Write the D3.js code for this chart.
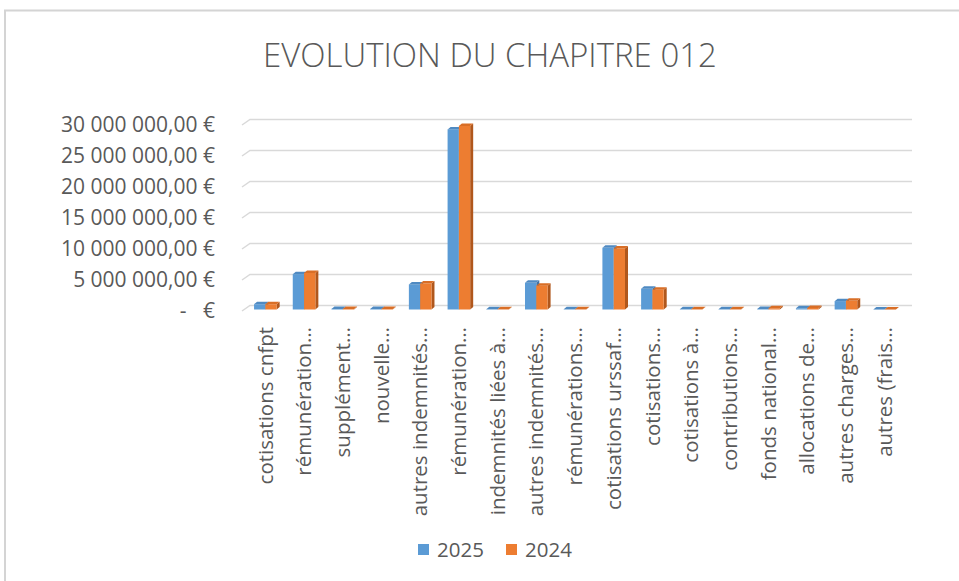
<!DOCTYPE html>
<html lang="fr">
<head>
    <meta charset="UTF-8">
    <title>Evolution du chapitre 012</title>
    <script src="https://d3js.org/d3.v7.min.js"></script>
    <style>
        body {
            margin: 0;
            background: #fff;
        }
        text {
            font-family: "Open Sans", "Noto Sans", sans-serif;
            fill: #595959;
            white-space: pre;
        }
    </style>
</head>
<body>
    <script>
        var width = 959;
        var height = 581;

        var categories = [
            "cotisations cnfpt", "rémunération…", "supplément…", "nouvelle…",
            "autres indemnités…", "rémunération…", "indemnités liées à…",
            "autres indemnités…", "rémunérations…", "cotisations urssaf…",
            "cotisations…", "cotisations à…", "contributions…", "fonds national…",
            "allocations de…", "autres charges…", "autres (frais…"
        ];
        var series = ["2025", "2024"];
        var values2025 = [850000, 5700000, 100000, 100000, 4050000, 29050000, 50000,
            4300000, 50000, 9950000, 3350000, 50000, 50000, 100000, 200000, 1350000, 20000];
        var values2024 = [850000, 5900000, 100000, 100000, 4200000, 29600000, 50000,
            3850000, 50000, 9850000, 3200000, 50000, 50000, 200000, 250000, 1400000, 20000];
        var yTicks = [0, 5000000, 10000000, 15000000, 20000000, 25000000, 30000000];

        var colors = {
            "2025": { front: "#5b9bd5", top: "#4f8ac2", side: "#3f72a3" },
            "2024": { front: "#ed7d31", top: "#d96e26", side: "#b0571c" }
        };

        var fr = d3.formatLocale({
            decimal: ",",
            thousands: " ",
            grouping: [3],
            currency: ["", " €"]
        });
        var fmt = function (v) {
            return v === 0 ? "-   €" : fr.format(",.2f")(v) + " €";
        };

        var svg = d3.select("body")
            .append("svg")
            .attr("width", width)
            .attr("height", height);

        // chart frame
        svg.append("path")
            .attr("d", "M5,581 L5,10.5 L959,10.5")
            .attr("fill", "none")
            .attr("stroke", "#d4d4d4")
            .attr("stroke-width", 2);

        svg.append("text")
            .attr("x", 490)
            .attr("y", 67)
            .attr("text-anchor", "middle")
            .attr("font-size", 33)
            .attr("font-weight", 300)
            .text("EVOLUTION DU CHAPITRE 012");

        // front of the floor, back wall is shifted by depth
        var depthX = 8, depthY = -5.5;
        var x = d3.scaleBand()
            .domain(d3.range(categories.length))
            .range([246, 904]);
        var y = d3.scaleLinear()
            .domain([0, 30000000])
            .range([311, 125]);

        var grid = svg.append("g");
        grid.selectAll("path")
            .data(yTicks)
            .enter()
            .append("path")
            .attr("fill", "none")
            .attr("stroke", "#d9d9d9")
            .attr("stroke-width", 1.5)
            .attr("d", function (d) {
                return "M242," + y(d) + " L" + (242 + depthX) + "," + (y(d) + depthY) +
                    " L912," + (y(d) + depthY);
            });

        svg.append("g")
            .selectAll("text")
            .data(yTicks)
            .enter()
            .append("text")
            .attr("x", 215)
            .attr("y", function (d) { return y(d); })
            .attr("dy", "0.35em")
            .attr("text-anchor", "end")
            .attr("font-size", 21)
            .text(fmt);

        // 3d columns
        var barW = 11.3, dx = 3, dy = 2.5;
        var rows = [];
        categories.forEach(function (c, i) {
            rows.push({ i: i, s: "2025", v: values2025[i], off: -barW });
            rows.push({ i: i, s: "2024", v: values2024[i], off: 0 });
        });

        var bars = svg.append("g")
            .selectAll("g")
            .data(rows)
            .enter()
            .append("g");

        function x0(d) { return x(d.i) + x.bandwidth() / 2 + d.off; }
        function yb(v) { return y(v) - 1.5; }

        bars.append("path")
            .attr("fill", function (d) { return colors[d.s].side; })
            .attr("d", function (d) {
                var a = x0(d) + barW, t = yb(d.v), b = yb(0);
                return "M" + a + "," + b + " L" + a + "," + t + " L" + (a + dx) + "," + (t - dy) +
                    " L" + (a + dx) + "," + (b - dy) + "Z";
            });
        bars.append("rect")
            .attr("x", x0)
            .attr("y", function (d) { return yb(d.v); })
            .attr("width", barW)
            .attr("height", function (d) { return yb(0) - yb(d.v); })
            .attr("fill", function (d) { return colors[d.s].front; });
        bars.append("path")
            .attr("fill", function (d) { return colors[d.s].top; })
            .attr("d", function (d) {
                var a = x0(d), t = yb(d.v);
                return "M" + a + "," + t + " L" + (a + barW) + "," + t + " L" + (a + barW + dx) + "," + (t - dy) +
                    " L" + (a + dx) + "," + (t - dy) + "Z";
            });

        svg.append("g")
            .selectAll("text")
            .data(categories)
            .enter()
            .append("text")
            .attr("transform", function (d, i) {
                return "translate(" + (x(i) + x.bandwidth() / 2) + ",327) rotate(-90)";
            })
            .attr("dy", "0.35em")
            .attr("text-anchor", "end")
            .attr("font-size", 20.5)
            .text(function (d) { return d; });

        // legend
        var legend = svg.append("g")
            .selectAll("g")
            .data(series)
            .enter()
            .append("g")
            .attr("transform", function (d, i) { return "translate(" + (418 + i * 88) + ",544)"; });
        legend.append("rect")
            .attr("width", 11)
            .attr("height", 11)
            .attr("fill", function (d) { return colors[d].front; });
        legend.append("text")
            .attr("x", 19)
            .attr("y", 5.5)
            .attr("dy", "0.35em")
            .attr("font-size", 20.5)
            .text(function (d) { return d; });
    </script>
</body>
</html>
